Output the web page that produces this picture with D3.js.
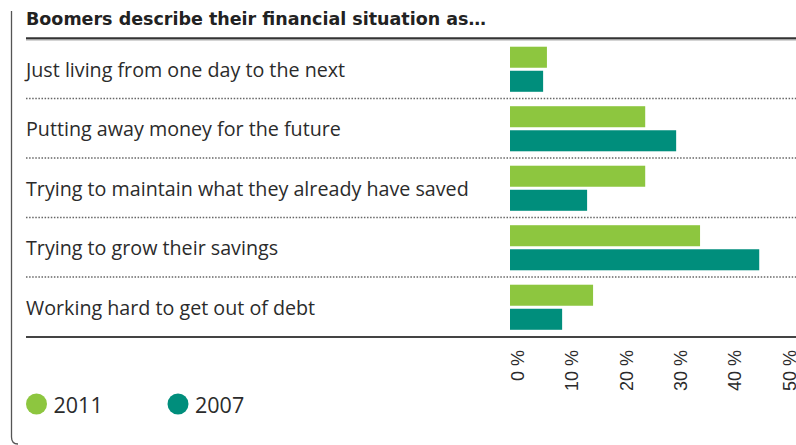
<!DOCTYPE html>
<html>
<head>
<meta charset="utf-8">
<script src="https://cdn.jsdelivr.net/npm/d3@7/dist/d3.min.js"></script>
<style>
  html, body { margin: 0; padding: 0; background: #fff; }
  svg { display: block; }
</style>
</head>
<body>
<script>
// Survey answers, percent of boomers, by year
const categories = [
  "Just living from one day to the next",
  "Putting away money for the future",
  "Trying to maintain what they already have saved",
  "Trying to grow their savings",
  "Working hard to get out of debt"
];
const years = ["2011", "2007"];
const values2011 = [6.8, 24.9, 24.9, 35.0, 15.3];
const values2007 = [6.1, 30.6, 14.2, 45.9, 9.6];
const tickValues = [0, 10, 20, 30, 40, 50];
const tickLabels = ["0 %", "10 %", "20 %", "30 %", "40 %", "50 %"];
const colors = ["#8dc63f", "#008e7c"];
const title = "Boomers describe their financial situation as\u2026";

const W = 796, H = 445;
const svg = d3.select("body").append("svg").attr("width", W).attr("height", H);

const textColor = "#2b2b2b";
const font = "'Liberation Sans', Arial, sans-serif";
const labelFont = "'Open Sans', 'Liberation Sans', sans-serif";
const titleFont = "'DejaVu Sans', 'Liberation Sans', sans-serif";

// Frame: left rule with rounded foot
svg.append("path")
  .attr("d", "M11.5,11 V437 Q11.5,444 18,444")
  .attr("fill", "none").attr("stroke", "#555").attr("stroke-width", 1.3);

// Title
svg.append("text")
  .attr("x", 26).attr("y", 25)
  .attr("font-family", titleFont).attr("font-weight", "bold")
  .attr("font-size", 17.5).attr("fill", "#222")
  .text(title);

svg.append("line").attr("x1", 26).attr("x2", W).attr("y1", 38.3).attr("y2", 38.3)
  .attr("stroke", "#333").attr("stroke-width", 2.2);
svg.append("line").attr("x1", 26).attr("x2", W).attr("y1", 40).attr("y2", 40)
  .attr("stroke", "#aaa").attr("stroke-width", 1);

// Scales
const x = d3.scaleLinear().domain([0, 50]).range([510, 781.5]);
const y = d3.scaleBand().domain(categories).range([39.5, 337]).padding(0);
const ySub = d3.scaleBand().domain(years).range([0, y.bandwidth()])
  .paddingInner(0.125).paddingOuter(0.3);

const rows = categories.map((c, i) => ({ cat: c, vals: [values2011[i], values2007[i]] }));

// Dotted separators between rows
svg.append("g").selectAll("line")
  .data(categories.slice(1))
  .join("line")
  .attr("x1", 26).attr("x2", W)
  .attr("y1", d => y(d) - 0.5).attr("y2", d => y(d) - 0.5)
  .attr("stroke", "#666").attr("stroke-width", 1.6)
  .attr("stroke-dasharray", "1.5,1.6");

// Category labels
svg.append("g").selectAll("text")
  .data(categories)
  .join("text")
  .attr("x", 26)
  .attr("y", d => y(d) + y.bandwidth() / 2 + 7.5)
  .attr("font-family", labelFont).attr("font-size", 19.7).attr("fill", textColor)
  .text(d => d);

// Bars
const g = svg.append("g").selectAll("g")
  .data(rows)
  .join("g")
  .attr("transform", d => `translate(0,${y(d.cat)})`);

g.selectAll("rect")
  .data(d => d.vals.map((v, j) => ({ year: years[j], v, j })))
  .join("rect")
  .attr("x", x(0))
  .attr("y", d => ySub(d.year))
  .attr("width", d => x(d.v) - x(0))
  .attr("height", ySub.bandwidth())
  .attr("fill", d => colors[d.j]);

// Baseline
svg.append("line").attr("x1", 26).attr("x2", W).attr("y1", 337).attr("y2", 337)
  .attr("stroke", "#444").attr("stroke-width", 2);

// Rotated tick labels
const axis = d3.axisBottom(x).tickValues(tickValues)
  .tickFormat((d, i) => tickLabels[i]).tickSize(0);
const ax = svg.append("g").attr("transform", "translate(0,337)").call(axis);
ax.select(".domain").remove();
ax.selectAll("text")
  .attr("font-family", font).attr("font-size", 18).attr("fill", textColor)
  .attr("text-anchor", "end")
  .attr("dy", null).attr("y", null)
  .attr("transform", "translate(13.5,13) rotate(-90)");

// Legend
const legend = svg.append("g").selectAll("g")
  .data(years)
  .join("g")
  .attr("transform", (d, i) => `translate(${[36.5, 178][i]},404)`);
legend.append("circle").attr("r", 10.5).attr("fill", (d, i) => colors[i]);
legend.append("text")
  .attr("x", 17).attr("y", 9)
  .attr("font-family", labelFont).attr("font-size", 21.5).attr("fill", textColor)
  .text(d => d);
</script>
</body>
</html>
